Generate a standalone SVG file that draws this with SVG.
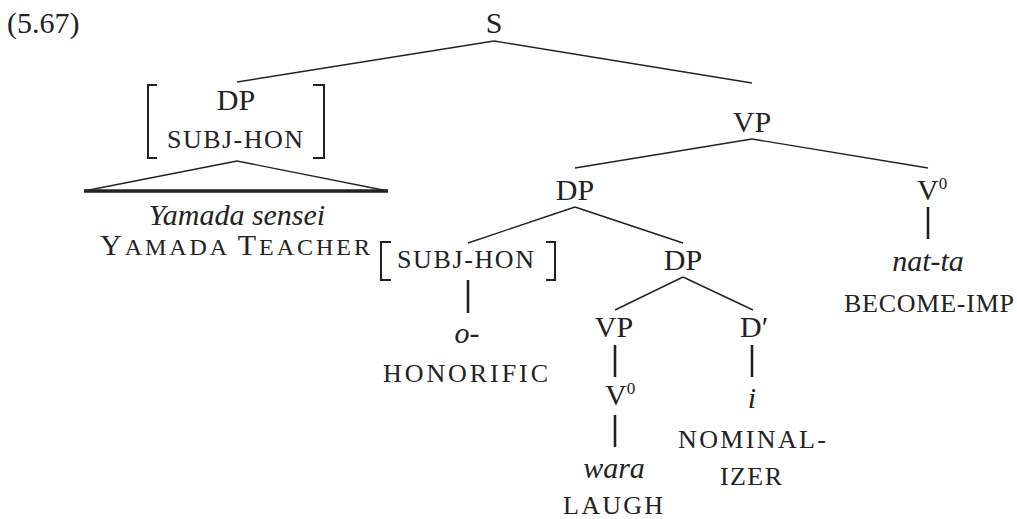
<svg xmlns="http://www.w3.org/2000/svg" width="1017" height="519" viewBox="0 0 1017 519">
<style>
text { font-family: "Liberation Serif", "DejaVu Serif", serif; fill: #222; }
.lab { font-size: 30px; }
.it { font-size: 30px; font-style: italic; }
.sc { font-size: 26px; }
.mid { text-anchor: middle; }
.sup { font-size: 17px; }
.ln { stroke: #222; stroke-width: 1.4; fill: none; }
.vt { stroke: #222; stroke-width: 2.6; fill: none; }
.br { stroke: #222; stroke-width: 2; fill: none; }
</style>
<rect width="1017" height="519" fill="#fff"/>
<g id="connectors">
  <line class="ln" x1="494" y1="41" x2="237" y2="82"/>
  <line class="ln" x1="494" y1="41" x2="752" y2="83"/>
  <line class="ln" x1="237" y1="161" x2="84" y2="191"/>
  <line class="ln" x1="237" y1="161" x2="388" y2="191"/>
  <line stroke="#222" stroke-width="3.5" x1="84" y1="191" x2="388" y2="191"/>
  <line class="ln" x1="752" y1="139" x2="575" y2="168"/>
  <line class="ln" x1="752" y1="139" x2="928" y2="168"/>
  <line class="vt" x1="928" y1="207" x2="928" y2="239"/>
  <line class="ln" x1="575" y1="207" x2="468" y2="243"/>
  <line class="ln" x1="575" y1="207" x2="683" y2="243"/>
  <line class="vt" x1="468" y1="280" x2="468" y2="313"/>
  <line class="ln" x1="683" y1="277" x2="615" y2="310"/>
  <line class="ln" x1="683" y1="277" x2="753" y2="310"/>
  <line class="vt" x1="615" y1="345" x2="615" y2="377"/>
  <line class="vt" stroke-width="3.6" x1="752" y1="345" x2="752" y2="377"/>
  <line class="vt" x1="615" y1="415" x2="615" y2="447"/>
</g>
<g id="example-number">
  <text class="lab" x="7" y="33">(5.67)</text>
</g>
<g id="node-S">
  <text class="lab mid" x="494" y="33">S</text>
</g>
<g id="node-DP-subject">
  <path class="br" d="M157,85 H148 V158 H157"/>
  <path class="br" d="M313,85 H324 V158 H313"/>
  <text class="lab mid" x="236" y="110">DP</text>
  <text class="sc" x="167" y="148" textLength="136">SUBJ-HON</text>
</g>
<g id="leaf-yamada">
  <text class="it mid" x="237" y="225">Yamada sensei</text>
  <text x="100" y="255" textLength="270"><tspan font-size="30">Y</tspan><tspan font-size="24">AMADA </tspan><tspan font-size="30">T</tspan><tspan font-size="24">EACHER</tspan></text>
</g>
<g id="node-VP-top">
  <text class="lab mid" x="752" y="132">VP</text>
</g>
<g id="node-DP-object">
  <text class="lab mid" x="575" y="200">DP</text>
</g>
<g id="node-V0-right">
  <text class="lab" x="917" y="200">V<tspan class="sup" dy="-11">0</tspan></text>
</g>
<g id="leaf-natta">
  <text class="it mid" x="928" y="271">nat-ta</text>
  <text class="sc" x="844" y="312" textLength="170">BECOME-IMP</text>
</g>
<g id="node-subj-hon">
  <path class="br" d="M391,242 H381 V280 H391"/>
  <path class="br" d="M546,242 H555 V280 H546"/>
  <text class="sc" x="397" y="268" textLength="137">SUBJ-HON</text>
</g>
<g id="leaf-o">
  <text class="it mid" x="467" y="343">o-</text>
  <text class="sc" x="383" y="382" textLength="165">HONORIFIC</text>
</g>
<g id="node-DP-inner">
  <text class="lab mid" x="683" y="270">DP</text>
</g>
<g id="node-VP-inner">
  <text class="lab mid" x="614" y="337">VP</text>
</g>
<g id="node-Dbar">
  <text class="lab" x="740" y="337">D′</text>
</g>
<g id="node-V0-inner">
  <text class="lab" x="605" y="405">V<tspan class="sup" dy="-11">0</tspan></text>
</g>
<g id="leaf-wara">
  <text class="it mid" x="614" y="478">wara</text>
  <text class="sc" x="563" y="514" textLength="100">LAUGH</text>
</g>
<g id="leaf-i">
  <text class="it mid" x="752" y="408">i</text>
  <text class="sc" x="678" y="448" textLength="148">NOMINAL-</text>
  <text class="sc" x="720" y="485" textLength="62">IZER</text>
</g>
</svg>
